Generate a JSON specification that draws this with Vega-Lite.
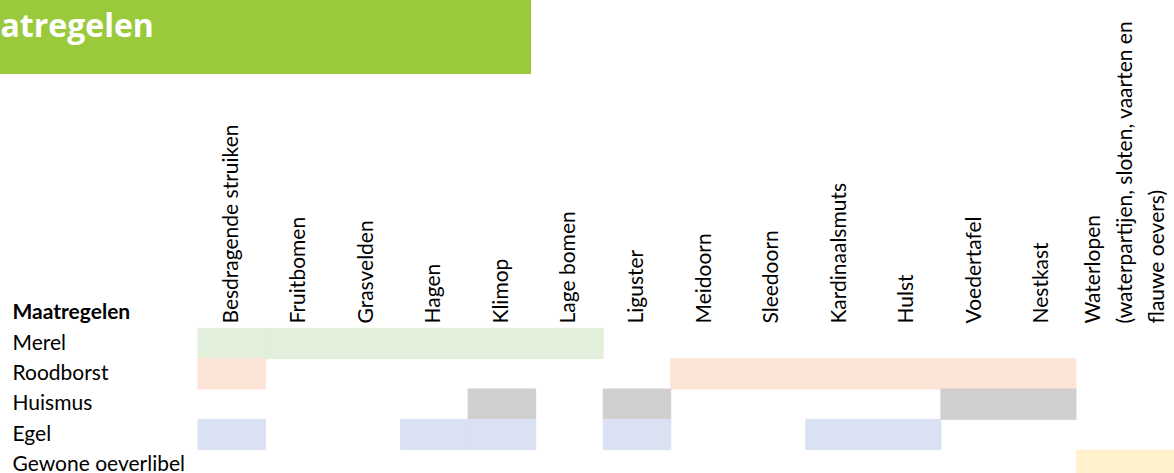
{
  "$schema": "https://vega.github.io/schema/vega-lite/v6.json",
  "width": 1174,
  "height": 473,
  "autosize": {"type": "none"},
  "padding": 0,
  "background": "#ffffff",
  "config": {
    "view": {"stroke": null},
    "axis": {
      "labelFont": "Lato",
      "labelFontSize": 21,
      "labelColor": "#000000",
      "ticks": false,
      "tickSize": 0,
      "domain": false,
      "grid": false,
      "labelPadding": 0,
      "labelLimit": 0,
      "labelOverlap": false,
      "title": null
    }
  },
  "datasets": {
    "cellen": [
      {"soort": "Merel", "maatregel": "Besdragende struiken"},
      {"soort": "Merel", "maatregel": "Fruitbomen"},
      {"soort": "Merel", "maatregel": "Grasvelden"},
      {"soort": "Merel", "maatregel": "Hagen"},
      {"soort": "Merel", "maatregel": "Klimop"},
      {"soort": "Merel", "maatregel": "Lage bomen"},
      {"soort": "Roodborst", "maatregel": "Besdragende struiken"},
      {"soort": "Roodborst", "maatregel": "Meidoorn"},
      {"soort": "Roodborst", "maatregel": "Sleedoorn"},
      {"soort": "Roodborst", "maatregel": "Kardinaalsmuts"},
      {"soort": "Roodborst", "maatregel": "Hulst"},
      {"soort": "Roodborst", "maatregel": "Voedertafel"},
      {"soort": "Roodborst", "maatregel": "Nestkast"},
      {"soort": "Huismus", "maatregel": "Klimop"},
      {"soort": "Huismus", "maatregel": "Liguster"},
      {"soort": "Huismus", "maatregel": "Voedertafel"},
      {"soort": "Huismus", "maatregel": "Nestkast"},
      {"soort": "Egel", "maatregel": "Besdragende struiken"},
      {"soort": "Egel", "maatregel": "Hagen"},
      {"soort": "Egel", "maatregel": "Klimop"},
      {"soort": "Egel", "maatregel": "Liguster"},
      {"soort": "Egel", "maatregel": "Kardinaalsmuts"},
      {"soort": "Egel", "maatregel": "Hulst"}
    ],
    "water": [
      {"soort": "Gewone oeverlibel", "maatregel": "Waterlopen\n(waterpartijen, sloten, vaarten en\nflauwe oevers)"}
    ],
    "kop": [
      {"kop": "Maatregelen"}
    ]
  },
  "layer": [
    {
      "data": {"name": "kop"},
      "encoding": {
        "x": {"field": "kop", "type": "nominal", "scale": {"range": [0, 531], "paddingInner": 0, "paddingOuter": 0}, "axis": null},
        "y": {"field": "kop", "type": "nominal", "scale": {"range": [0, 74], "paddingInner": 0, "paddingOuter": 0}, "axis": null}
      },
      "layer": [
        {"mark": {"type": "rect", "color": "#9ACA3C"}},
        {
          "mark": {"type": "text", "align": "left", "baseline": "alphabetic", "dx": -49, "font": "Open Sans", "fontSize": 32, "fontWeight": "bold", "color": "#ffffff"},
          "encoding": {
            "text": {"field": "kop"},
            "x": {"field": "kop", "type": "nominal", "bandPosition": 0},
            "y": {"field": "kop", "type": "nominal", "bandPosition": 0.5}
          }
        }
      ]
    },
    {
      "data": {"name": "cellen"},
      "mark": {"type": "rect", "strokeWidth": 1},
      "encoding": {
        "x": {
          "field": "maatregel", "type": "nominal", "sort": null,
          "scale": {
            "domain": ["Besdragende struiken", "Fruitbomen", "Grasvelden", "Hagen", "Klimop", "Lage bomen", "Liguster", "Meidoorn", "Sleedoorn", "Kardinaalsmuts", "Hulst", "Voedertafel", "Nestkast"],
            "range": [198, 1076], "paddingInner": 0, "paddingOuter": 0
          },
          "axis": {"orient": "top", "offset": -323, "labelAngle": -90, "labelAlign": "left", "labelBaseline": "middle"}
        },
        "y": {
          "field": "soort", "type": "nominal", "sort": null,
          "scale": {
            "domain": ["Maatregelen", "Merel", "Roodborst", "Huismus", "Egel", "Gewone oeverlibel"],
            "range": [298, 480], "paddingInner": 0, "paddingOuter": 0
          },
          "axis": {
            "orient": "left", "offset": -12, "labelAlign": "left", "labelBaseline": "middle",
            "labelFontWeight": {"condition": {"test": "datum.value === 'Maatregelen'", "value": "bold"}, "value": "normal"}
          }
        },
        "color": {
          "field": "soort", "type": "nominal",
          "scale": {
            "domain": ["Merel", "Roodborst", "Huismus", "Egel", "Gewone oeverlibel"],
            "range": ["#E2EFDA", "#FCE4D6", "#D0CECE", "#D9E1F2", "#FFF2CC"]
          },
          "legend": null
        },
        "stroke": {
          "field": "soort", "type": "nominal",
          "scale": {
            "domain": ["Merel", "Roodborst", "Huismus", "Egel", "Gewone oeverlibel"],
            "range": ["#E2EFDA", "#FCE4D6", "#D0CECE", "#D9E1F2", "#FFF2CC"]
          },
          "legend": null
        }
      }
    },
    {
      "data": {"name": "water"},
      "mark": {"type": "rect"},
      "encoding": {
        "x": {
          "field": "maatregel", "type": "nominal",
          "scale": {"range": [1076, 1174], "paddingInner": 0, "paddingOuter": 0},
          "axis": {"orient": "top", "offset": -323, "labelAngle": -90, "labelAlign": "left", "labelBaseline": "middle", "labelLineHeight": 32, "labelOffset": -31, "labelExpr": "split(datum.label, '\\n')"}
        },
        "y": {
          "field": "soort", "type": "nominal", "sort": null,
          "scale": {
            "domain": ["Maatregelen", "Merel", "Roodborst", "Huismus", "Egel", "Gewone oeverlibel"],
            "range": [298, 480], "paddingInner": 0, "paddingOuter": 0
          },
          "axis": null
        },
        "color": {"field": "soort", "type": "nominal", "legend": null}
      }
    }
  ],
  "resolve": {
    "scale": {"x": "independent", "y": "independent"},
    "axis": {"x": "independent", "y": "independent"}
  }
}
